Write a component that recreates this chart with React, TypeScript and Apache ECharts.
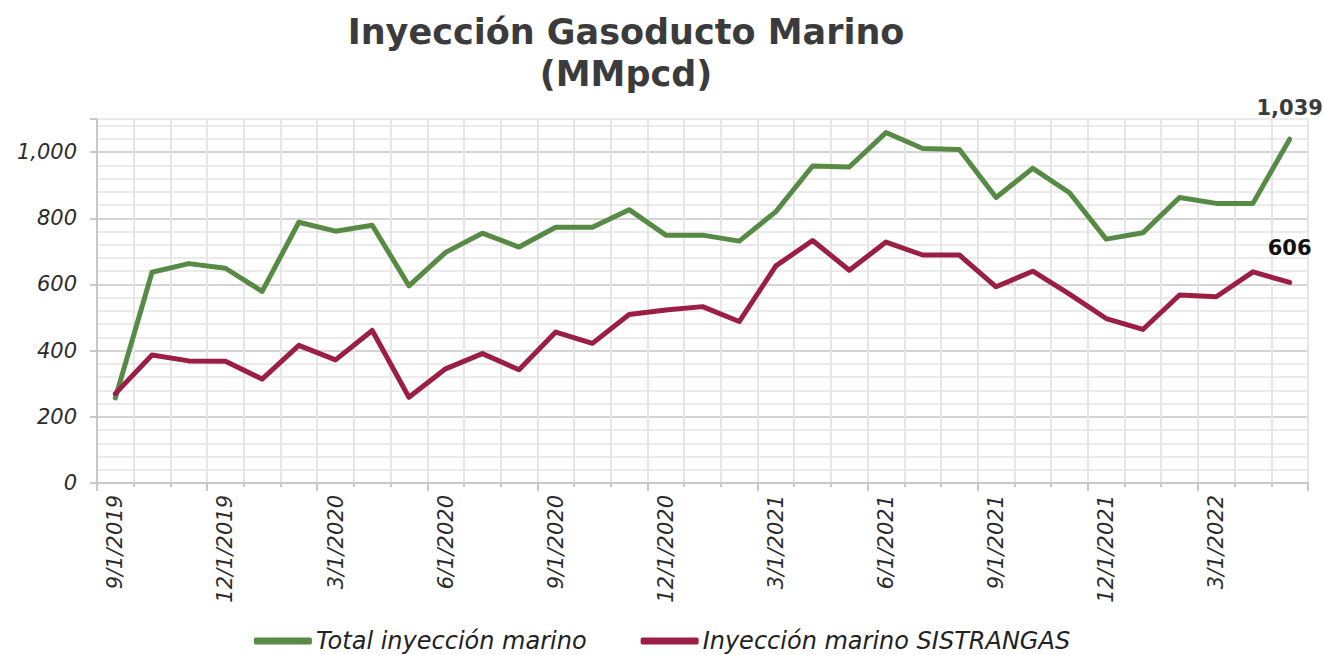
import React, { useEffect, useRef } from "react";
import * as echarts from "echarts";

const categories: string[] = [
  "9/1/2019", "10/1/2019", "11/1/2019", "12/1/2019",
  "1/1/2020", "2/1/2020", "3/1/2020", "4/1/2020", "5/1/2020", "6/1/2020",
  "7/1/2020", "8/1/2020", "9/1/2020", "10/1/2020", "11/1/2020", "12/1/2020",
  "1/1/2021", "2/1/2021", "3/1/2021", "4/1/2021", "5/1/2021", "6/1/2021",
  "7/1/2021", "8/1/2021", "9/1/2021", "10/1/2021", "11/1/2021", "12/1/2021",
  "1/1/2022", "2/1/2022", "3/1/2022", "4/1/2022", "5/1/2022",
];

const totalMarino: number[] = [
  257, 637, 663, 649, 579, 788, 761, 779, 596, 697, 755, 713, 773, 773, 826, 749,
  749, 731, 820, 958, 955, 1059, 1011, 1008, 863, 951, 877, 737, 756, 863, 845, 845, 1039,
];

const sistrangas: number[] = [
  270, 387, 369, 368, 314, 416, 372, 461, 259, 345, 391, 342, 456, 422, 509, 523,
  533, 488, 656, 733, 643, 728, 689, 689, 593, 640, 571, 497, 464, 568, 563, 638, 606,
];

const seriesNames = ["Total inyección marino", "Inyección marino SISTRANGAS"];
const titleText = "Inyección Gasoducto Marino\n(MMpcd)";

const GREEN = "#578a45";
const MAROON = "#9b1f45";
const FONT = "'DejaVu Sans', 'Noto Sans', sans-serif";

function withLastLabel(values: number[], color: string, distance: number) {
  return values.map((v, i) =>
    i === values.length - 1
      ? {
          value: v,
          label: {
            show: true,
            position: "top",
            distance,
            fontFamily: FONT,
            fontWeight: "bold",
            fontSize: 21,
            color,
            formatter: (p: any) => Number(p.value).toLocaleString("en-US"),
          },
        }
      : v
  );
}

export default function App() {
  const ref = useRef<HTMLDivElement>(null);
  useEffect(() => {
    if (!ref.current) return;
    const chart = echarts.init(ref.current, undefined, { renderer: "svg" });
    chart.setOption({
      animation: false,
      backgroundColor: "#ffffff",
      title: {
        text: titleText,
        left: 621,
        textAlign: "center",
        top: 6,
        textStyle: {
          fontFamily: FONT,
          fontWeight: "bold",
          fontSize: 35,
          lineHeight: 42,
          color: "#3b3b3b",
        },
      },
      legend: {
        data: seriesNames,
        top: 624,
        left: "center",
        itemGap: 54,
        itemWidth: 58,
        itemHeight: 7,
        icon: "roundRect",
        textStyle: {
          fontFamily: FONT,
          fontStyle: "italic",
          fontSize: 24,
          color: "#222",
          padding: [0, 0, 0, -1],
        },
      },
      grid: { left: 97, right: 16, top: 119, bottom: 172 },
      xAxis: [
        {
          type: "category",
          data: categories,
          boundaryGap: true,
          position: "bottom",
          axisLine: { show: true, lineStyle: { color: "#c8c8c8", width: 2 } },
          axisTick: { show: true, interval: 2, length: 8, lineStyle: { color: "#c8c8c8", width: 2 } },
          axisLabel: {
            interval: 2,
            rotate: 90,
            margin: 12,
            fontFamily: FONT,
            fontStyle: "italic",
            fontSize: 21,
            color: "#2b2b2b",
          },
          splitLine: { show: true, interval: 0, lineStyle: { color: "#e6e6e6", width: 2 } },
        },
        {
          type: "category",
          data: categories,
          boundaryGap: true,
          position: "bottom",
          axisLine: { show: false },
          axisTick: { show: true, interval: 0, length: 4, lineStyle: { color: "#c8c8c8", width: 2 } },
          axisLabel: { show: false },
          splitLine: { show: false },
        },
      ],
      yAxis: [
        {
          type: "value",
          min: 0,
          max: 1100,
          interval: 200,
          axisLine: { show: true, lineStyle: { color: "#c8c8c8", width: 2 } },
          axisTick: { show: true, length: 7, lineStyle: { color: "#c8c8c8", width: 2 } },
          axisLabel: {
            margin: 20,
            fontFamily: FONT,
            fontStyle: "italic",
            fontSize: 21,
            color: "#2b2b2b",
            formatter: (v: number) => (v > 1000 ? "" : v.toLocaleString("en-US")),
          },
          splitLine: { show: false },
        },
        {
          type: "value",
          min: 0,
          max: 1100,
          interval: 40,
          axisLine: { show: false },
          axisTick: { show: false },
          axisLabel: { show: false },
          splitLine: {
            show: true,
            lineStyle: {
              color: ["#d4d4d4", "#ebebeb", "#ebebeb", "#ebebeb", "#ebebeb"],
              width: 2,
            },
          },
        },
      ],
      series: [
        {
          name: seriesNames[0],
          type: "line",
          data: withLastLabel(totalMarino, "#3b3b3b", 21),
          yAxisIndex: 0,
          xAxisIndex: 0,
          symbol: "circle",
          symbolSize: 0,
          showSymbol: true,
          lineStyle: { color: GREEN, width: 5, cap: "round", join: "round" },
          itemStyle: { color: GREEN },
          z: 3,
        },
        {
          name: seriesNames[1],
          type: "line",
          data: withLastLabel(sistrangas, "#111111", 24),
          yAxisIndex: 0,
          xAxisIndex: 0,
          symbol: "circle",
          symbolSize: 0,
          showSymbol: true,
          lineStyle: { color: MAROON, width: 5, cap: "round", join: "round" },
          itemStyle: { color: MAROON },
          z: 4,
        },
      ],
    });
    return () => chart.dispose();
  }, []);
  return (
    <div
      ref={ref}
      style={{ position: "fixed", left: 0, top: 0, width: 1324, height: 655 }}
    />
  );
}
